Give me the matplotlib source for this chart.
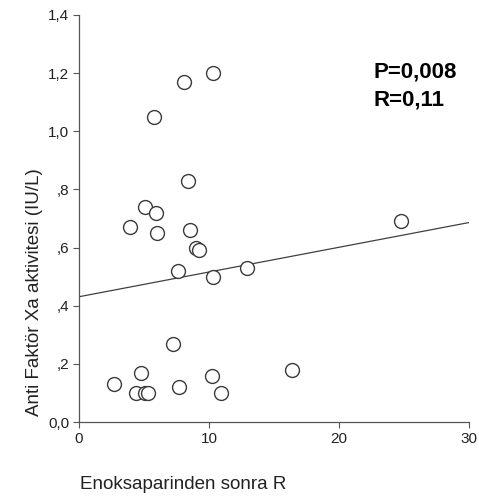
import numpy as np
import matplotlib
matplotlib.use("Agg")
from matplotlib import pyplot as plt
import matplotlib.ticker as mticker

plt.rcParams["font.family"] = ["Liberation Sans", "DejaVu Sans"]

# Enoksaparinden sonra R (x) vs anti factor Xa activity (y)
x_vals = [2.7, 4.8, 4.4, 5.1, 5.3, 7.2, 7.7, 10.2, 10.9, 16.4,
          7.6, 10.3, 12.9, 24.8, 9.0, 9.2, 3.9, 5.1, 5.9, 6.0,
          8.5, 8.4, 5.8, 8.1, 10.3]
y_vals = [0.13, 0.17, 0.10, 0.10, 0.10, 0.27, 0.12, 0.16, 0.10, 0.18,
          0.52, 0.50, 0.53, 0.69, 0.60, 0.59, 0.67, 0.74, 0.72, 0.65,
          0.66, 0.83, 1.05, 1.17, 1.20]

fit_intercept = 0.431
fit_slope = 0.0085
fit_range = [0, 30]

x_ticks = [0, 10, 20, 30]
y_ticks = [0.0, 0.2, 0.4, 0.6, 0.8, 1.0, 1.2, 1.4]
y_tick_labels = ["0,0", ",2", ",4", ",6", ",8", "1,0", "1,2", "1,4"]

stats_text = "P=0,008\nR=0,11"
x_label = "Enoksaparinden sonra R"
y_label = "Anti Faktör Xa aktivitesi (IU/L)"

fig = plt.figure(figsize=(4.79, 4.96), dpi=100)
ax = fig.add_axes([0.165, 0.149, 0.814, 0.821])

fx = np.array(fit_range)
ax.plot(fx, fit_intercept + fit_slope * fx, color="#404040", lw=0.9, zorder=2)
ax.scatter(x_vals, y_vals, s=100, facecolors="white", edgecolors="#3a3a3a",
           linewidths=1.0, zorder=3)

ax.set_xlim(0, 30)
ax.set_ylim(0, 1.4)
ax.xaxis.set_major_locator(mticker.FixedLocator(x_ticks))
ax.yaxis.set_major_locator(mticker.FixedLocator(y_ticks))
ax.set_yticklabels(y_tick_labels)

for s in ["top", "right"]:
    ax.spines[s].set_visible(False)
for s in ["left", "bottom"]:
    ax.spines[s].set_color("#555555")
    ax.spines[s].set_linewidth(0.9)
ax.tick_params(direction="out", length=4, width=0.8, color="#555555",
               labelsize=11, labelcolor="#222222", pad=3)

fig.text(0.073, 0.412, y_label, fontsize=13.5, color="#222222", rotation=90,
         ha="center", va="center")
fig.text(0.167, 0.014, x_label, fontsize=13.5, color="#222222", ha="left", va="baseline")

ax.text(0.755, 0.885, stats_text, transform=ax.transAxes, fontsize=16,
        fontweight="bold", ha="left", va="top", linespacing=1.4)

fig.savefig("out.png", dpi=100, facecolor="white")
